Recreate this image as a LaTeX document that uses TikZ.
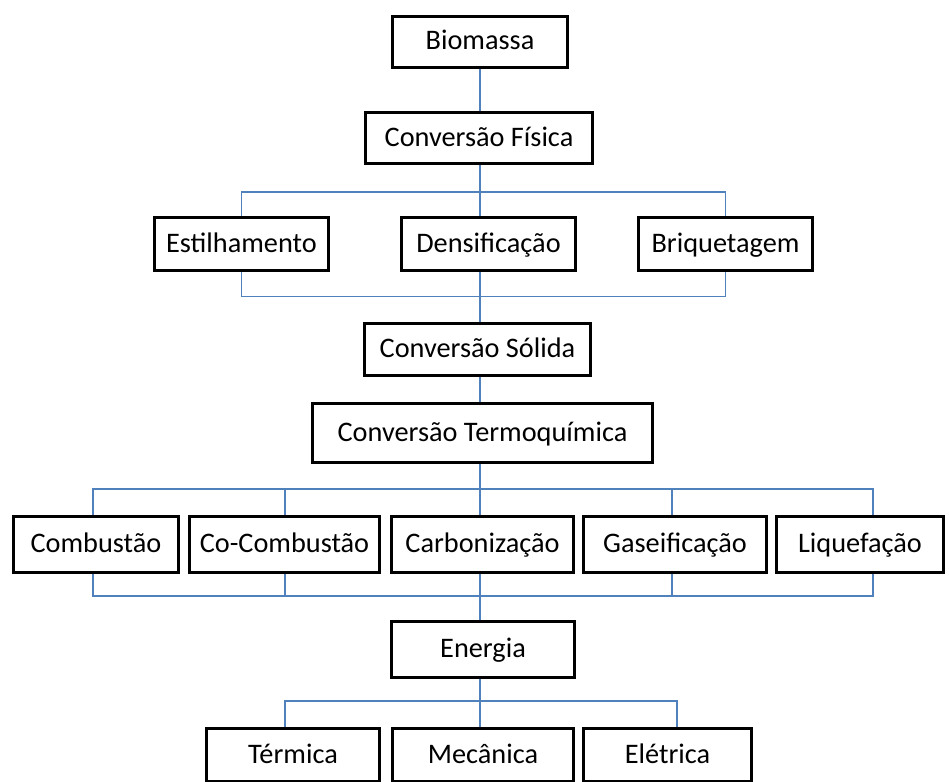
\documentclass[tikz,border=0pt]{standalone}
\usepackage{fontspec}
\setmainfont{Carlito}
\definecolor{linec}{RGB}{79,129,189}
\newcommand{\mybox}[6]{%
  \node[box, minimum width={#4-#2-3}, minimum height={#5-#3-3}] (#1) at ({(#2+#4)/2},{(#3+#5)/2}) {#6};}
\begin{document}
\begin{tikzpicture}[x=1pt,y=-1pt,
  box/.style={draw=black, line width=3pt, fill=white, inner sep=0pt,
    text height=18pt, text depth=2pt,
    font=\fontsize{28.3}{32}\selectfont},
  conn/.style={draw=linec, line width=1.4pt}]
\useasboundingbox (0,0) rectangle (949,781);
\clip (0,0) rectangle (949,781);
% nodes
\mybox{bio}{391}{15}{569}{69}{Biomassa}
\mybox{cf}{364}{111}{594}{165}{Conversão Física}
\mybox{est}{153}{216}{330}{272}{Estilhamento}
\mybox{den}{400}{216}{577}{272}{Densificação}
\mybox{briq}{637}{216}{814}{272}{Briquetagem}
\mybox{cs}{363}{322}{592}{377}{Conversão Sólida}
\mybox{ct}{311}{402}{654}{464}{Conversão Termoquímica}
\mybox{comb}{12}{515}{180}{574}{Combustão}
\mybox{cocomb}{188}{515}{381}{574}{Co-Combustão}
\mybox{carb}{390}{515}{575}{574}{Carbonização}
\mybox{gas}{582}{515}{768}{574}{Gaseificação}
\mybox{liq}{775}{515}{945}{574}{Liquefação}
\mybox{ene}{390}{620}{576}{679}{Energia}
\mybox{ter}{205}{727}{381}{783}{Térmica}
\mybox{mec}{391}{727}{575}{783}{Mecânica}
\mybox{ele}{582}{727}{753}{783}{Elétrica}
% bus coordinates
\coordinate (b1) at (480,192);
\coordinate (b2) at (480,296.5);
\coordinate (b3) at (480,489);
\coordinate (b4) at (480,596);
\coordinate (b5) at (480,701);
\coordinate (x1) at (93,0);
\coordinate (x2) at (285,0);
\coordinate (x4) at (672,0);
\coordinate (x5) at (873,0);
\coordinate (e1) at (285,0);
\coordinate (e3) at (677,0);
% connectors
\draw[conn] (b1 |- bio.south) -- (b1 |- cf.north);
\draw[conn] (b1 |- cf.south) -- (b1);
\draw[conn] (est.north) |- (b1) -| (briq.north);
\draw[conn] (b1) -- (b1 |- den.north);
\draw[conn] (est.south) |- (b2) -| (briq.south);
\draw[conn] (b2 |- den.south) -- (b2);
\draw[conn] (b2) -- (b2 |- cs.north);
\draw[conn] (b2 |- cs.south) -- (b2 |- ct.north);
\draw[conn] (b3 |- ct.south) -- (b3);
\draw[conn] (x1 |- comb.north) |- (b3) -| (x5 |- liq.north);
\draw[conn] (x2 |- b3) -- (x2 |- cocomb.north);
\draw[conn] (b3) -- (b3 |- carb.north);
\draw[conn] (x4 |- b3) -- (x4 |- gas.north);
\draw[conn] (x1 |- comb.south) |- (b4) -| (x5 |- liq.south);
\draw[conn] (x2 |- cocomb.south) -- (x2 |- b4);
\draw[conn] (b4 |- carb.south) -- (b4);
\draw[conn] (x4 |- gas.south) -- (x4 |- b4);
\draw[conn] (b4) -- (b4 |- ene.north);
\draw[conn] (b5 |- ene.south) -- (b5);
\draw[conn] (e1 |- ter.north) |- (b5) -| (e3 |- ele.north);
\draw[conn] (b5) -- (b5 |- mec.north);
\end{tikzpicture}
\end{document}
